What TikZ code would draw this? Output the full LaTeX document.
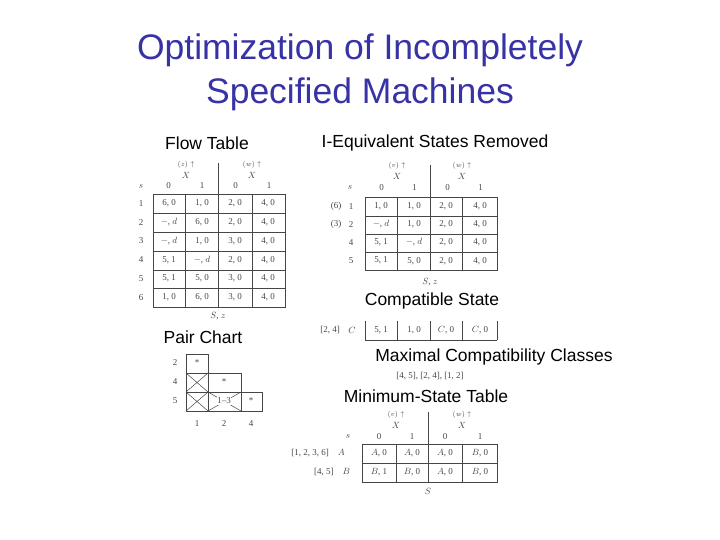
\documentclass[tikz,border=0pt]{standalone}
\usepackage{fontspec}
\setmainfont{Liberation Serif}
\newfontfamily\lab{Liberation Sans}
\definecolor{ttl}{RGB}{55,50,165}
\definecolor{ink}{RGB}{70,70,70}
\begin{document}
\begin{tikzpicture}[x=1pt,y=-1pt,
  ttlstyle/.style={text=ttl,font=\lab\fontsize{35.5}{44}\selectfont,align=center},
  labstyle/.style={font=\lab\fontsize{17.5}{20}\selectfont},
  cell/.style={font=\fontsize{9}{10}\selectfont,text=ink},
  hd/.style={font=\fontsize{7.5}{8}\selectfont,text=ink},
  grid/.style={draw=ink,line width=0.9pt}]
\useasboundingbox (0,0) rectangle (720,540);
\node[ttlstyle] (title) at (360,72) {Optimization of Incompletely\\Specified Machines};
\node[labstyle] (l1) at (207,143) {Flow Table};
\node[labstyle] (l2) at (435,143) {I-Equivalent States Removed};
\node[labstyle] (l3) at (432,301) {Compatible State};
\node[labstyle] (l4) at (203,337) {Pair Chart};
\node[labstyle] (l5) at (494,357) {Maximal Compatibility Classes};
\node[labstyle] (l6) at (426,396) {Minimum-State Table};

% ---- flow table
\draw[grid] (153,194) rectangle (285,307);
\foreach \x in {185,218,252} \draw[grid] (\x,194) -- (\x,307);
\foreach \y in {213,232,251,270,288} \draw[grid] (153,\y) -- (285,\y);
\draw[grid] (218,163) -- (218,194);
\node[hd] (fh1) at (186,165) {$(z)\uparrow$};
\node[hd] (fh2) at (252,165) {$(w)\uparrow$};
\node[cell] (fx1) at (186,175) {$X$};
\node[cell] (fx2) at (252,175) {$X$};
\node[cell] (fs) at (141,187) {$s$};
\foreach \t [count=\i] in {0,1,0,1} \node[cell] (fc\i) at (135+33.5*\i,186) {\t};
\foreach \r/\a/\b/\c/\d [count=\i] in {1/{6, 0}/{1, 0}/{2, 0}/{4, 0},
  2/{$-$, $d$}/{6, 0}/{2, 0}/{4, 0},
  3/{$-$, $d$}/{1, 0}/{3, 0}/{4, 0},
  4/{5, 1}/{$-$, $d$}/{2, 0}/{4, 0},
  5/{5, 1}/{5, 0}/{3, 0}/{4, 0},
  6/{1, 0}/{6, 0}/{3, 0}/{4, 0}} {
  \node[cell] (fr\i) at (141,194+18.8*\i-9.4) {\r};
  \node[cell] (fa\i) at (169,194+18.8*\i-9.4) {\a};
  \node[cell] (fb\i) at (202,194+18.8*\i-9.4) {\b};
  \node[cell] (fcc\i) at (235,194+18.8*\i-9.4) {\c};
  \node[cell] (fd\i) at (268,194+18.8*\i-9.4) {\d};
}
\node[cell] (fsz) at (218,316) {$S$, $z$};

% ---- I-equivalent table
\draw[grid] (365,197) rectangle (497,270);
\foreach \x in {397,430,462} \draw[grid] (\x,197) -- (\x,270);
\foreach \y in {216,234,252} \draw[grid] (365,\y) -- (497,\y);
\draw[grid] (430,165) -- (430,197);
\node[hd] (ih1) at (397,166) {$(v)\uparrow$};
\node[hd] (ih2) at (462,166) {$(w)\uparrow$};
\node[cell] (ix1) at (397,176) {$X$};
\node[cell] (ix2) at (462,176) {$X$};
\node[cell] (is) at (350,188) {$s$};
\foreach \t [count=\i] in {0,1,0,1} \node[cell] (ic\i) at (348.5+33*\i,188) {\t};
\foreach \p/\r/\a/\b/\c/\d [count=\i] in {(6)/1/{1, 0}/{1, 0}/{2, 0}/{4, 0},
  (3)/2/{$-$, $d$}/{1, 0}/{2, 0}/{4, 0},
  {}/4/{5, 1}/{$-$, $d$}/{2, 0}/{4, 0},
  {}/5/{5, 1}/{5, 0}/{2, 0}/{4, 0}} {
  \node[cell] (ip\i) at (336,197+18.2*\i-9.1) {\p};
  \node[cell] (ir\i) at (351,197+18.2*\i-9.1) {\r};
  \node[cell] (ia\i) at (381,197+18.2*\i-9.1) {\a};
  \node[cell] (ib\i) at (414,197+18.2*\i-9.1) {\b};
  \node[cell] (icc\i) at (446,197+18.2*\i-9.1) {\c};
  \node[cell] (id\i) at (480,197+18.2*\i-9.1) {\d};
}
\node[cell] (isz) at (430,282) {$S$, $z$};

% ---- compatible state row
\draw[grid] (365,340) -- (497,340);
\foreach \x in {365,397,430,462,497} \draw[grid] (\x,321) -- (\x,340);
\node[cell] (cl) at (330,330) {[2, 4]};
\node[cell] (cC) at (352,330) {$C$};
\node[cell] (c1) at (381,330) {5, 1};
\node[cell] (c2) at (414,330) {1, 0};
\node[cell] (c3) at (446,330) {$C$, 0};
\node[cell] (c4) at (480,330) {$C$, 0};

% ---- pair chart
\draw[grid,line width=0.6pt] (186,354) rectangle (208,373);
\draw[grid,line width=0.6pt] (186,373) rectangle (241,392);
\draw[grid,line width=0.6pt] (208,373) -- (208,411);
\draw[grid,line width=0.6pt] (186,392) rectangle (262,411);
\draw[grid,line width=0.6pt] (241,392) -- (241,411);
\draw[ink,line width=0.5pt] (186,373) -- (208,392) (186,392) -- (208,373)
  (186,392) -- (208,411) (186,411) -- (208,392)
  (208,392) -- (241,411) (208,411) -- (241,392);
\node[cell] (p21) at (197,363) {*};
\node[cell] (p42) at (224,382) {*};
\node[cell,fill=white,inner sep=0.5pt] (p52) at (224,401) {1--3};
\node[cell] (p54) at (251,401) {*};
\node[cell] (pr2) at (175,363) {2};
\node[cell] (pr4) at (175,382) {4};
\node[cell] (pr5) at (175,401) {5};
\node[cell] (pc1) at (197,424) {1};
\node[cell] (pc2) at (224,424) {2};
\node[cell] (pc4) at (251,424) {4};

% ---- maximal classes
\node[cell] (mc) at (430,376) {[4, 5], [2, 4], [1, 2]};

% ---- minimum-state table
\draw[grid] (362,444) rectangle (497,482);
\foreach \x in {396,428,462} \draw[grid] (\x,444) -- (\x,482);
\draw[grid] (362,463) -- (497,463);
\draw[grid] (428,412) -- (428,444);
\node[hd] (mh1) at (396,415) {$(v)\uparrow$};
\node[hd] (mh2) at (462,415) {$(w)\uparrow$};
\node[cell] (mx1) at (396,425) {$X$};
\node[cell] (mx2) at (462,425) {$X$};
\node[cell] (ms) at (348,437) {$s$};
\foreach \t/\x in {0/379,1/412,0/445,1/480} \node[cell] (mcol\x) at (\x,437) {\t};
\node[cell] (mA) at (318,453) {[1, 2, 3, 6]\quad$A$};
\node[cell] (mB) at (332,472) {[4, 5]\quad$B$};
\node[cell] at (379,453) {$A$, 0}; \node[cell] at (412,453) {$A$, 0};
\node[cell] at (445,453) {$A$, 0}; \node[cell] at (480,453) {$B$, 0};
\node[cell] at (379,472) {$B$, 1}; \node[cell] at (412,472) {$B$, 0};
\node[cell] at (445,472) {$A$, 0}; \node[cell] at (480,472) {$B$, 0};
\node[cell] (mS) at (428,491) {$S$};
\end{tikzpicture}
\end{document}
